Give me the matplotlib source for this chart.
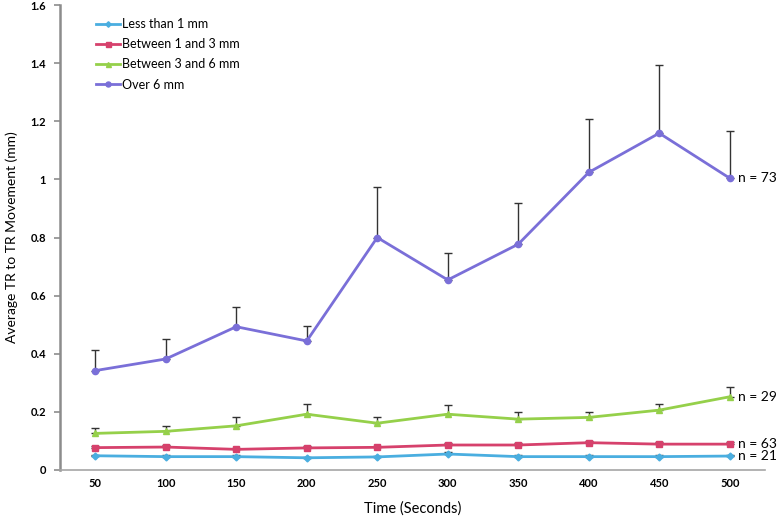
import matplotlib
matplotlib.use("Agg")
import matplotlib.pyplot as plt
import numpy as np

plt.rcParams['font.family'] = ['Lato', 'DejaVu Sans']

times = ['50', '100', '150', '200', '250', '300', '350', '400', '450', '500']

less_1 = [0.049, 0.046, 0.046, 0.042, 0.045, 0.055, 0.046, 0.046, 0.046, 0.048]
less_1_err = [0.004, 0.004, 0.004, 0.004, 0.004, 0.008, 0.004, 0.004, 0.004, 0.004]

btw_1_3 = [0.077, 0.079, 0.071, 0.076, 0.078, 0.086, 0.086, 0.094, 0.089, 0.089]
btw_1_3_err = [0.006, 0.006, 0.006, 0.006, 0.006, 0.006, 0.006, 0.006, 0.006, 0.006]

btw_3_6 = [0.126, 0.133, 0.152, 0.192, 0.161, 0.192, 0.175, 0.181, 0.206, 0.252]
btw_3_6_err = [0.020, 0.018, 0.031, 0.035, 0.020, 0.032, 0.024, 0.019, 0.021, 0.035]

over_6 = [0.342, 0.382, 0.493, 0.444, 0.800, 0.654, 0.777, 1.024, 1.159, 1.004]
over_6_err = [0.071, 0.068, 0.069, 0.053, 0.175, 0.092, 0.141, 0.183, 0.236, 0.162]

labels = ['Less than 1 mm', 'Between 1 and 3 mm', 'Between 3 and 6 mm', 'Over 6 mm']
counts = ['n = 21', 'n = 63', 'n = 29', 'n = 73']

series = [
	(less_1, less_1_err, '#4aaee0', 'D', 3.5),
	(btw_1_3, btw_1_3_err, '#d6416c', 's', 4.5),
	(btw_3_6, btw_3_6_err, '#95d04a', '^', 4.5),
	(over_6, over_6_err, '#7a6fd8', 'o', 4.5),
]

fig = plt.figure(figsize=(7.77, 5.19), dpi=100)
ax = fig.add_axes([60 / 777, 1 - 470 / 519, 705 / 777, 465 / 519])

x = np.arange(len(times))

for (vals, err, color, marker, ms), label, n_text in zip(series, labels, counts):
	# plus-only error bars, behind the lines
	ax.errorbar(x, vals, yerr=[np.zeros(len(err)), err], fmt='none',
		ecolor='#333333', elinewidth=1.0, capsize=3, capthick=1.0, zorder=2)
	ax.plot(x, vals, color=color, lw=2.0, marker=marker, ms=ms,
		markerfacecolor=color, markeredgecolor=color, label=label, zorder=3)
	ax.text(x[-1] + 0.12, vals[-1], n_text, fontsize=10, va='center', ha='left')

ax.set_xlim(-0.5, len(times) - 0.5)
ax.set_ylim(0, 1.6)
ax.set_xticks(x)
ax.set_xticklabels(times, fontsize=8, fontweight='bold')
ax.set_yticks(np.arange(0, 1.61, 0.2))
ax.set_yticklabels(['0', '0.2', '0.4', '0.6', '0.8', '1', '1.2', '1.4', '1.6'],
	fontsize=8, fontweight='bold')

ax.tick_params(axis='x', length=0, pad=6)
ax.tick_params(axis='y', direction='out', length=4, width=1.2, color='#8c8c8c', pad=6)

for side in ['top', 'right']:
	ax.spines[side].set_visible(False)
ax.spines['left'].set_color('#8c8c8c')
ax.spines['left'].set_linewidth(1.8)
ax.spines['bottom'].set_color('#a6a6a6')
ax.spines['bottom'].set_linewidth(1.2)

ax.set_xlabel('Time (Seconds)', fontsize=10.5, labelpad=9)
ax.set_ylabel('Average TR to TR Movement (mm)', fontsize=10, labelpad=9)

ax.legend(loc='upper left', bbox_to_anchor=(90 / 777, 1 - 12 / 519),
	bbox_transform=fig.transFigure, frameon=False, fontsize=9,
	handlelength=1.9, handletextpad=0.15, labelspacing=0.65, borderpad=0,
	markerscale=0.8)

fig.savefig('out.png', dpi=100)
